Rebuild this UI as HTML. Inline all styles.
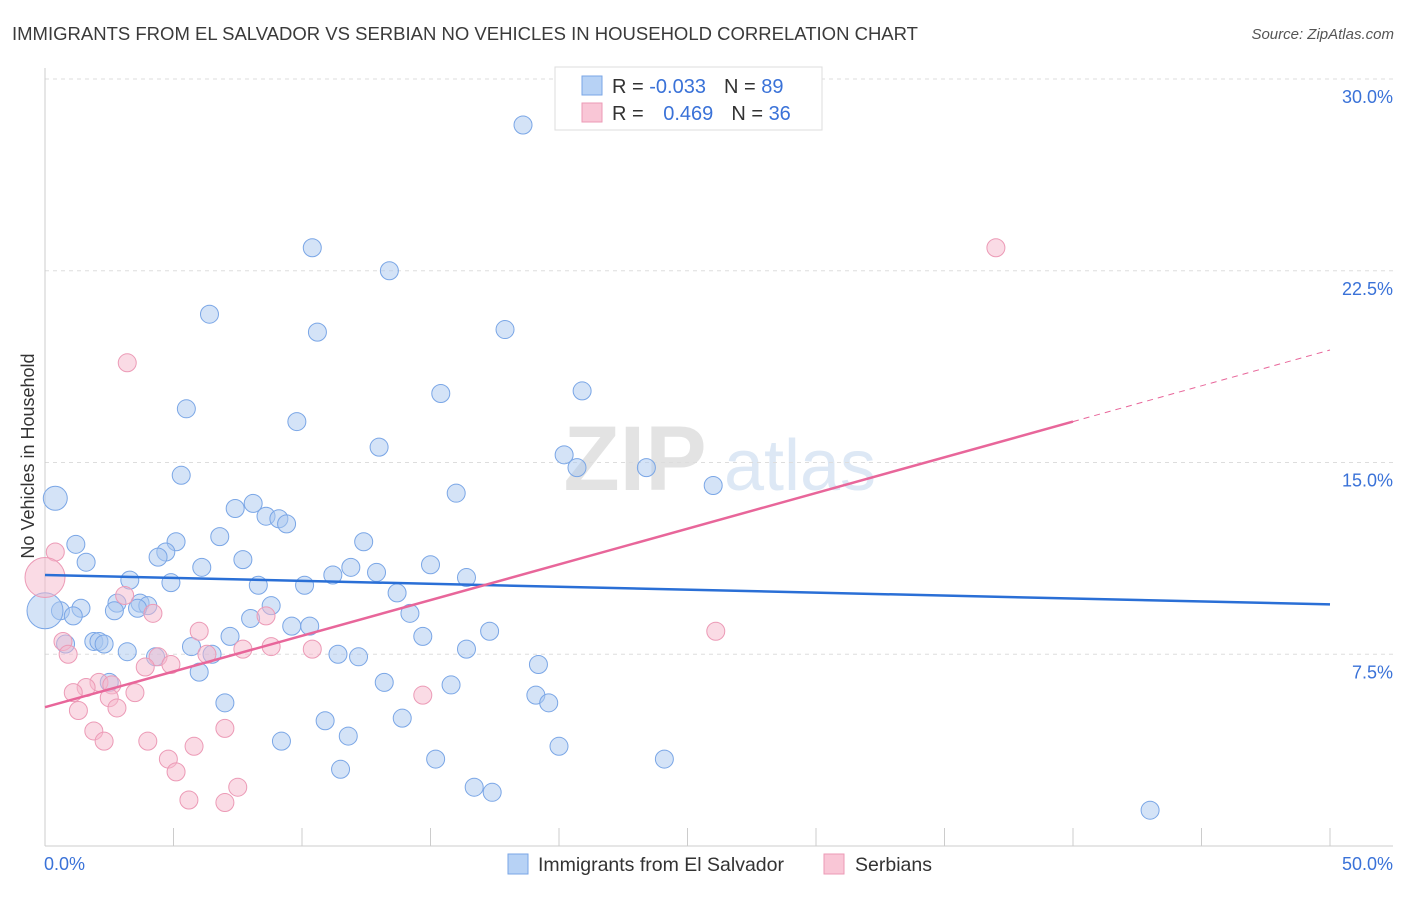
<!DOCTYPE html>
<html><head><meta charset="utf-8">
<style>
body{margin:0;background:#fff;font-family:"Liberation Sans",sans-serif;}
svg text{font-family:"Liberation Sans",sans-serif;}
</style></head>
<body>
<svg id="chart" width="1406" height="892" xmlns="http://www.w3.org/2000/svg">
<text x="12" y="40" font-size="18" fill="#3a3a3a" textLength="906" lengthAdjust="spacingAndGlyphs">IMMIGRANTS FROM EL SALVADOR VS SERBIAN NO VEHICLES IN HOUSEHOLD CORRELATION CHART</text>
<text x="1394" y="39" font-size="15" fill="#555" text-anchor="end" font-style="italic">Source: ZipAtlas.com</text>
<g>
<text x="635" y="490" font-size="92" fill="#e3e3e3" font-family="Liberation Serif" text-anchor="middle" font-weight="bold">ZIP</text>
<text x="800" y="490" font-size="72" fill="#dde8f5" text-anchor="middle">atlas</text>
</g>
<g id="grid"></g>
<g id="axes"></g>
<g id="marks"></g>
<text transform="translate(34,456) rotate(-90)" font-size="18" fill="#333" text-anchor="middle">No Vehicles in Household</text>
<g>
<rect x="555" y="67" width="267" height="63" fill="#fff" stroke="#ddd"/>
<rect x="582" y="76" width="20" height="19" fill="#b7d2f5" stroke="#7aa6e6"/>
<rect x="582" y="103" width="20" height="19" fill="#f9c6d6" stroke="#ec9ab6"/>
<text x="612" y="93" font-size="20" fill="#333">R = <tspan fill="#3a72d8">-0.033</tspan><tspan dx="18">N = </tspan><tspan fill="#3a72d8">89</tspan></text>
<text x="612" y="120" font-size="20" fill="#333">R = <tspan fill="#3a72d8" dx="14">0.469</tspan><tspan dx="18">N = </tspan><tspan fill="#3a72d8">36</tspan></text>
</g>
<g>
<rect x="508" y="854" width="20" height="20" fill="#b7d2f5" stroke="#7aa6e6"/>
<text x="538" y="871" font-size="19.5" fill="#333">Immigrants from El Salvador</text>
<rect x="824" y="854" width="20" height="20" fill="#f9c6d6" stroke="#ec9ab6"/>
<text x="855" y="871" font-size="19.5" fill="#333">Serbians</text>
</g>
</svg>
<script>
const yTicks=[7.5,15,22.5,30];
const yTickLabels=["7.5%","15.0%","22.5%","30.0%"];
const xTicks=[0,5,10,15,20,25,30,35,40,45,50];
const xEndLabels=["0.0%","50.0%"];
const blueX=[18.6,10.4,13.4,6.4,10.6,17.9,15.4,20.9,5.5,9.8,13.0,20.2,20.7,23.4,5.3,26.0,16.0,8.1,7.4,8.6,9.1,9.4,6.8,5.1,12.4,1.2,4.7,4.4,7.7,1.6,15.0,11.9,12.9,6.1,11.2,16.4,3.3,4.9,8.3,10.1,13.7,1.4,0.6,3.7,2.8,4.0,3.6,8.8,2.7,14.2,8.0,1.1,9.6,10.3,17.3,14.7,7.2,1.9,2.1,0.8,2.3,5.7,3.2,4.3,6.5,11.4,12.2,16.4,19.2,6.0,2.5,13.2,15.8,7.0,19.1,19.6,13.9,10.9,11.8,9.2,20.0,15.2,24.1,11.5,16.7,17.4,43.0,0.4,0];
const blueY=[28.2,23.4,22.5,20.8,20.1,20.2,17.7,17.8,17.1,16.6,15.6,15.3,14.8,14.8,14.5,14.1,13.8,13.4,13.2,12.9,12.8,12.6,12.1,11.9,11.9,11.8,11.5,11.3,11.2,11.1,11.0,10.9,10.7,10.9,10.6,10.5,10.4,10.3,10.2,10.2,9.9,9.3,9.2,9.5,9.5,9.4,9.3,9.4,9.2,9.1,8.9,9.0,8.6,8.6,8.4,8.2,8.2,8.0,8.0,7.9,7.9,7.8,7.6,7.4,7.5,7.5,7.4,7.7,7.1,6.8,6.4,6.4,6.3,5.6,5.9,5.6,5.0,4.9,4.3,4.1,3.9,3.4,3.4,3.0,2.3,2.1,1.4,13.6,9.2];
const blueR=[9,9,9,9,9,9,9,9,9,9,9,9,9,9,9,9,9,9,9,9,9,9,9,9,9,9,9,9,9,9,9,9,9,9,9,9,9,9,9,9,9,9,9,9,9,9,9,9,9,9,9,9,9,9,9,9,9,9,9,9,9,9,9,9,9,9,9,9,9,9,9,9,9,9,9,9,9,9,9,9,9,9,9,9,9,9,9,12,18];
const pinkX=[37.0,3.2,0.4,0,3.1,4.2,0.7,8.6,6.0,8.8,7.7,10.4,0.9,4.4,4.9,6.3,3.9,26.1,2.1,1.6,1.1,2.6,3.5,2.5,2.8,1.3,14.7,7.0,1.9,2.3,4.0,5.8,4.8,5.1,7.5,5.6,7.0];
const pinkY=[23.4,18.9,11.5,10.5,9.8,9.1,8.0,9.0,8.4,7.8,7.7,7.7,7.5,7.4,7.1,7.5,7.0,8.4,6.4,6.2,6.0,6.3,6.0,5.8,5.4,5.3,5.9,4.6,4.5,4.1,4.1,3.9,3.4,2.9,2.3,1.8,1.7];
const blueTrendX=[0,50], blueTrendY=[10.6,9.45];
const pinkTrendX=[0,40,50], pinkTrendY=[5.43,16.6,19.4];

const NS="http://www.w3.org/2000/svg";
const X0=45,X1=1330,YB=846,YT=79;
const sx=v=>X0+(v/50)*(X1-X0);
const sy=v=>YB-(v/30)*(YB-YT);
function mk(tag,attrs,parent){const e=document.createElementNS(NS,tag);for(const k in attrs)e.setAttribute(k,attrs[k]);parent.appendChild(e);return e;}
const grid=document.getElementById('grid'),axes=document.getElementById('axes'),marks=document.getElementById('marks');
yTicks.forEach((t,i)=>{
 const l=mk('line',{x1:X0,x2:1393,y1:sy(t),y2:sy(t),stroke:'#ddd','stroke-dasharray':'4,4'},grid);
 
 
 const tx=mk('text',{x:1393,y:sy(t)+24,'font-size':18,fill:'#3a72d8','text-anchor':'end'},axes);
 tx.textContent=yTickLabels[i];
 
 
});
let a=mk('line',{x1:X0,x2:X0,y1:68,y2:YB,stroke:'#ccc'},axes);


a=mk('line',{x1:X0,x2:1393,y1:YB,y2:YB,stroke:'#ccc'},axes);


xTicks.forEach(t=>{
 const l=mk('line',{x1:sx(t),x2:sx(t),y1:828,y2:YB,stroke:'#ccc'},axes);
 
 
});
[[0,'start',44],[50,'end',1393]].forEach((d,i)=>{
 const tx=mk('text',{x:d[2],y:870,'font-size':18,fill:'#3a72d8','text-anchor':d[1]},axes);
 tx.textContent=xEndLabels[i];
 
 
});
blueX.forEach((v,i)=>{
 const c=mk('circle',{cx:sx(v),cy:sy(blueY[i]),r:blueR[i],fill:'#a9c8f0','fill-opacity':0.5,stroke:'#7aa6e6','stroke-width':1},marks);
 
 
});
pinkX.forEach((v,i)=>{
 const c=mk('circle',{cx:sx(v),cy:sy(pinkY[i]),r:(i===3?20:9),fill:'#f5b8cc','fill-opacity':0.5,stroke:'#ec9ab6','stroke-width':1},marks);
 
 
});
let t=mk('line',{x1:sx(blueTrendX[0]),y1:sy(blueTrendY[0]),x2:sx(blueTrendX[1]),y2:sy(blueTrendY[1]),stroke:'#2a6fd6','stroke-width':2.5},marks);


t=mk('line',{x1:sx(pinkTrendX[0]),y1:sy(pinkTrendY[0]),x2:sx(pinkTrendX[1]),y2:sy(pinkTrendY[1]),stroke:'#e8669a','stroke-width':2.5},marks);


t=mk('line',{x1:sx(pinkTrendX[1]),y1:sy(pinkTrendY[1]),x2:sx(pinkTrendX[2]),y2:sy(pinkTrendY[2]),stroke:'#e8669a','stroke-width':1,'stroke-dasharray':'6,5'},marks);


</script>
</body></html>
